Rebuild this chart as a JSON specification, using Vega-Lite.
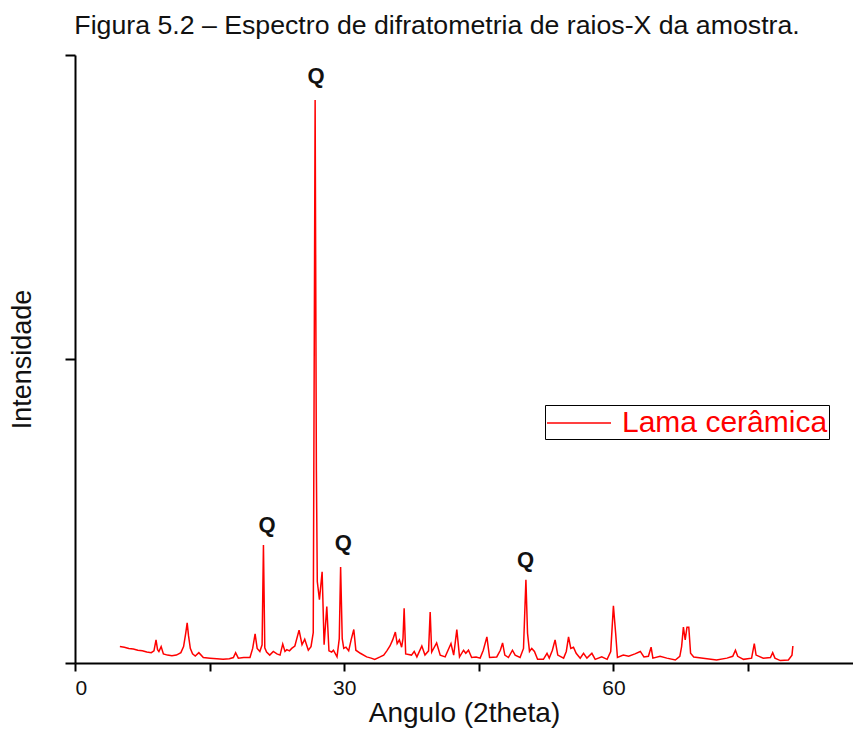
{
  "$schema": "https://vega.github.io/schema/vega-lite/v6.json",
  "autosize": "none",
  "width": 778,
  "height": 608,
  "padding": {"left": 75, "top": 55, "right": 0, "bottom": 88},
  "background": "white",
  "config": {
    "view": {"stroke": null},
    "font": "Liberation Sans",
    "axis": {"grid": false, "domainColor": "black", "tickColor": "black", "domainWidth": 2, "tickWidth": 2, "labelColor": "#111111", "titleColor": "#111111", "labelFont": "Liberation Sans", "titleFont": "Liberation Sans", "titleFontWeight": "normal"}
  },
  "title": {"text": "Figura 5.2 – Espectro de difratometria de raios-X da amostra.", "fontSize": 26.7, "fontWeight": "normal", "font": "Liberation Sans", "color": "#111111", "anchor": "middle", "dx": -27, "offset": 14},
  "datasets": {
    "xrd": [
      {"a": 5.0, "i": 27}, {"a": 5.5, "i": 26}, {"a": 6.0, "i": 24}, {"a": 6.5, "i": 23}, {"a": 7.0, "i": 21}, {"a": 7.5, "i": 20}, {"a": 8.0, "i": 18}, {"a": 8.5, "i": 17}, {"a": 8.8, "i": 20}, {"a": 9.03, "i": 38}, {"a": 9.2, "i": 22}, {"a": 9.35, "i": 19}, {"a": 9.6, "i": 27}, {"a": 9.85, "i": 15}, {"a": 10.3, "i": 13}, {"a": 10.8, "i": 12}, {"a": 11.3, "i": 13}, {"a": 11.8, "i": 17}, {"a": 12.1, "i": 27}, {"a": 12.35, "i": 50}, {"a": 12.5, "i": 66}, {"a": 12.65, "i": 45}, {"a": 12.85, "i": 24}, {"a": 13.1, "i": 15}, {"a": 13.4, "i": 11.5}, {"a": 13.8, "i": 17}, {"a": 14.3, "i": 9}, {"a": 15.05, "i": 8}, {"a": 15.8, "i": 7}, {"a": 16.5, "i": 6}, {"a": 17.2, "i": 7}, {"a": 17.65, "i": 9}, {"a": 17.9, "i": 17}, {"a": 18.2, "i": 8}, {"a": 18.8, "i": 9}, {"a": 19.5, "i": 9}, {"a": 19.8, "i": 24}, {"a": 20.07, "i": 48}, {"a": 20.3, "i": 24}, {"a": 20.6, "i": 19}, {"a": 20.85, "i": 30}, {"a": 21.0, "i": 194}, {"a": 21.15, "i": 25}, {"a": 21.35, "i": 18}, {"a": 21.7, "i": 13}, {"a": 22.1, "i": 19}, {"a": 22.5, "i": 15}, {"a": 22.85, "i": 13}, {"a": 23.15, "i": 31}, {"a": 23.4, "i": 19}, {"a": 23.6, "i": 22}, {"a": 23.9, "i": 20}, {"a": 24.15, "i": 24}, {"a": 24.5, "i": 28}, {"a": 24.97, "i": 54}, {"a": 25.3, "i": 30}, {"a": 25.6, "i": 39}, {"a": 26.0, "i": 21}, {"a": 26.3, "i": 27}, {"a": 26.55, "i": 50}, {"a": 26.76, "i": 926}, {"a": 26.9, "i": 317}, {"a": 27.0, "i": 134}, {"a": 27.24, "i": 104}, {"a": 27.54, "i": 150}, {"a": 27.76, "i": 30}, {"a": 28.06, "i": 93}, {"a": 28.3, "i": 20}, {"a": 28.6, "i": 18}, {"a": 28.8, "i": 21}, {"a": 29.2, "i": 10}, {"a": 29.45, "i": 40}, {"a": 29.6, "i": 158}, {"a": 29.78, "i": 40}, {"a": 29.95, "i": 24}, {"a": 30.2, "i": 26}, {"a": 30.5, "i": 20}, {"a": 30.77, "i": 38}, {"a": 31.07, "i": 55}, {"a": 31.3, "i": 21}, {"a": 31.8, "i": 16}, {"a": 32.5, "i": 10}, {"a": 33.0, "i": 8}, {"a": 33.4, "i": 6}, {"a": 34.0, "i": 10}, {"a": 34.4, "i": 13}, {"a": 34.75, "i": 20}, {"a": 35.1, "i": 28}, {"a": 35.4, "i": 38}, {"a": 35.7, "i": 51}, {"a": 35.9, "i": 32}, {"a": 36.15, "i": 38}, {"a": 36.4, "i": 26}, {"a": 36.55, "i": 40}, {"a": 36.68, "i": 90}, {"a": 36.85, "i": 15}, {"a": 37.5, "i": 13}, {"a": 37.8, "i": 19}, {"a": 38.1, "i": 10}, {"a": 38.65, "i": 28}, {"a": 39.0, "i": 13}, {"a": 39.4, "i": 20}, {"a": 39.58, "i": 84}, {"a": 39.75, "i": 18}, {"a": 40.3, "i": 33}, {"a": 40.7, "i": 13}, {"a": 41.25, "i": 10}, {"a": 41.9, "i": 32}, {"a": 42.2, "i": 13}, {"a": 42.55, "i": 55}, {"a": 42.85, "i": 10}, {"a": 43.3, "i": 21}, {"a": 43.55, "i": 16}, {"a": 43.85, "i": 21}, {"a": 44.2, "i": 9}, {"a": 44.7, "i": 10}, {"a": 45.15, "i": 8}, {"a": 45.5, "i": 21}, {"a": 45.9, "i": 43}, {"a": 46.2, "i": 9}, {"a": 47.0, "i": 10}, {"a": 47.4, "i": 21}, {"a": 47.65, "i": 33}, {"a": 47.9, "i": 13}, {"a": 48.3, "i": 9}, {"a": 48.75, "i": 21}, {"a": 49.05, "i": 13}, {"a": 49.6, "i": 9}, {"a": 49.98, "i": 24}, {"a": 50.25, "i": 137}, {"a": 50.43, "i": 49}, {"a": 50.65, "i": 19}, {"a": 50.9, "i": 24}, {"a": 51.2, "i": 19}, {"a": 51.55, "i": 6}, {"a": 52.2, "i": 6}, {"a": 52.6, "i": 16}, {"a": 52.85, "i": 8}, {"a": 53.2, "i": 21}, {"a": 53.5, "i": 38}, {"a": 53.8, "i": 13}, {"a": 54.45, "i": 8}, {"a": 54.75, "i": 19}, {"a": 55.0, "i": 43}, {"a": 55.25, "i": 24}, {"a": 55.55, "i": 26}, {"a": 55.85, "i": 16}, {"a": 56.3, "i": 8}, {"a": 56.67, "i": 16}, {"a": 57.05, "i": 8}, {"a": 57.6, "i": 16}, {"a": 57.97, "i": 6}, {"a": 58.7, "i": 10}, {"a": 59.3, "i": 6}, {"a": 59.7, "i": 19}, {"a": 60.0, "i": 94}, {"a": 60.25, "i": 49}, {"a": 60.45, "i": 9}, {"a": 61.1, "i": 13}, {"a": 61.7, "i": 11}, {"a": 62.4, "i": 15}, {"a": 63.0, "i": 19}, {"a": 63.4, "i": 10}, {"a": 63.9, "i": 11}, {"a": 64.2, "i": 26}, {"a": 64.4, "i": 8}, {"a": 65.2, "i": 11}, {"a": 65.95, "i": 8}, {"a": 66.9, "i": 5}, {"a": 67.4, "i": 11}, {"a": 67.6, "i": 27}, {"a": 67.8, "i": 59}, {"a": 68.0, "i": 38}, {"a": 68.2, "i": 59}, {"a": 68.4, "i": 59}, {"a": 68.6, "i": 16}, {"a": 68.95, "i": 10}, {"a": 70.0, "i": 8}, {"a": 71.5, "i": 5}, {"a": 72.65, "i": 8}, {"a": 73.3, "i": 11}, {"a": 73.6, "i": 21}, {"a": 73.85, "i": 11}, {"a": 74.5, "i": 6}, {"a": 75.4, "i": 8}, {"a": 75.7, "i": 32}, {"a": 75.9, "i": 13}, {"a": 76.7, "i": 8}, {"a": 77.5, "i": 9}, {"a": 77.75, "i": 17}, {"a": 78.0, "i": 8}, {"a": 78.6, "i": 4}, {"a": 79.5, "i": 5}, {"a": 79.9, "i": 13}, {"a": 80.0, "i": 28}
    ],
    "anot": [
      {"a": 21.4, "i": 227, "t": "Q"},
      {"a": 26.87, "i": 966, "t": "Q"},
      {"a": 29.9, "i": 197, "t": "Q"},
      {"a": 50.2, "i": 169, "t": "Q"}
    ]
  },
  "layer": [
    {
      "data": {"name": "xrd"},
      "transform": [{"calculate": "'Lama cerâmica'", "as": "serie"}],
      "mark": {"type": "line", "strokeWidth": 1.5, "interpolate": "linear"},
      "encoding": {
        "x": {"field": "a", "type": "quantitative", "scale": {"domain": [0, 86.7], "nice": false, "zero": false},
          "axis": {"values": [0, 15, 30, 45, 60, 75], "labelExpr": "datum.value % 30 === 0 ? datum.label : ''", "tickSize": 8, "labelFontSize": 21, "labelPadding": 6, "title": "Angulo (2theta)", "titleFontSize": 28, "titlePadding": 1}},
        "y": {"field": "i", "type": "quantitative", "scale": {"domain": [0, 1000], "nice": false},
          "axis": {"values": [0, 500, 1000], "labels": false, "tickSize": 10, "title": "Intensidade", "titleFontSize": 27, "titlePadding": 28}},
        "color": {"field": "serie", "type": "nominal", "scale": {"range": ["#ff0000"]},
          "legend": {"title": null, "orient": "none", "legendX": 470, "legendY": 350, "strokeColor": "black", "padding": 1, "symbolType": "M-1,0H3", "symbolSize": 1024, "symbolStrokeWidth": 1.5, "labelColor": "#ff0000", "labelFontSize": 30, "labelFont": "Liberation Sans", "labelOffset": 42, "labelLimit": 400}}
      }
    },
    {
      "data": {"name": "anot"},
      "mark": {"type": "text", "fontWeight": "bold", "fontSize": 22, "font": "Liberation Sans", "color": "#111111", "baseline": "middle", "align": "center"},
      "encoding": {
        "x": {"field": "a", "type": "quantitative"},
        "y": {"field": "i", "type": "quantitative"},
        "text": {"field": "t"}
      }
    }
  ]
}
